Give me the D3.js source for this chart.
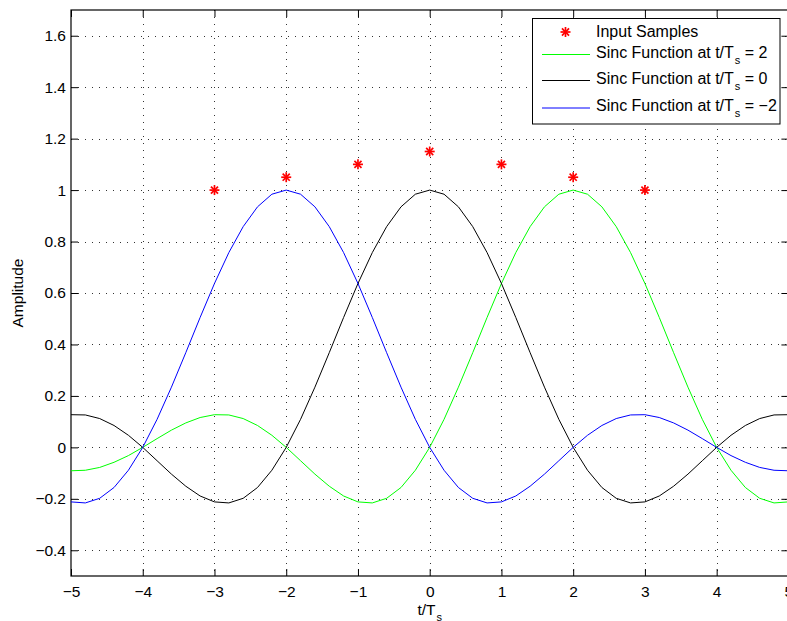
<!DOCTYPE html>
<html lang="en">
<head>
  <meta charset="utf-8">
  <title>Sinc interpolation</title>
  <script src="https://cdn.jsdelivr.net/npm/d3@7"></script>
  <style>
    body { margin: 0; background: #fff; }
    text { font-family: "Liberation Sans", Arial, Helvetica, sans-serif; }
  </style>
</head>
<body>
<script>
  // sample instants (t/Ts) and sample heights
  var sampleT = [-3, -2, -1, 0, 1, 2, 3];
  var sampleY = [1, 1.05, 1.1, 1.15, 1.1, 1.05, 1];

  // curves are sampled every 0.2 from -5 to 5
  var curveT = d3.range(51).map(function (i) { return -5 + i * 0.2; });

  var sincAt2 = [-.091, -.089, -.078, -.058, -.032, 0, .034, .067, .095, .116,
    .127, .126, .112, .085, .047, 0, -.052, -.104, -.151, -.189,
    -.212, -.216, -.198, -.156, -.089, 0, .109, .234, .368, .505,
    .637, .757, .858, .935, .984, 1, .984, .935, .858, .757,
    .637, .505, .368, .234, .109, 0, -.089, -.156, -.198, -.216, -.212];

  var sincAt0 = [.127, .126, .112, .085, .047, 0, -.052, -.104, -.151, -.189,
    -.212, -.216, -.198, -.156, -.089, 0, .109, .234, .368, .505,
    .637, .757, .858, .935, .984, 1, .984, .935, .858, .757,
    .637, .505, .368, .234, .109, 0, -.089, -.156, -.198, -.216,
    -.212, -.189, -.151, -.104, -.052, 0, .047, .085, .112, .126, .127];

  var sincAtM2 = [-.212, -.216, -.198, -.156, -.089, 0, .109, .234, .368, .505,
    .637, .757, .858, .935, .984, 1, .984, .935, .858, .757,
    .637, .505, .368, .234, .109, 0, -.089, -.156, -.198, -.216,
    -.212, -.189, -.151, -.104, -.052, 0, .047, .085, .112, .126,
    .127, .116, .095, .067, .034, 0, -.032, -.058, -.078, -.089, -.091];

  var xTicks = [-5, -4, -3, -2, -1, 0, 1, 2, 3, 4, 5];
  var yTicks = [-0.4, -0.2, 0, 0.2, 0.4, 0.6, 0.8, 1, 1.2, 1.4, 1.6];

  var curves = [
    { name: "2", values: sincAt2, color: "#00ff00" },
    { name: "0", values: sincAt0, color: "#000000" },
    { name: "\u22122", values: sincAtM2, color: "#0000ff" }
  ];

  var W = 787, H = 621;
  var pL = 71, pR = 788.4, pT = 10, pB = 576;
  var fs = 15.5;

  var svg = d3.select("body").append("svg")
    .attr("width", W).attr("height", H);

  var x = d3.scaleLinear().domain([-5, 5]).range([pL, pR]);
  var y = d3.scaleLinear().domain([-0.5, 1.7]).range([pB, pT]);

  function fmt(d) {
    var s = String(Math.round(d * 10) / 10);
    return s.replace("-", "\u2212");
  }

  // grid
  var grid = svg.append("g").attr("stroke", "#333").attr("stroke-width", 1)
    .attr("stroke-dasharray", "1,6");
  grid.selectAll(".gx").data(xTicks.slice(1, -1)).enter().append("line")
    .attr("x1", function (d) { return Math.round(x(d)) + 0.5; })
    .attr("x2", function (d) { return Math.round(x(d)) + 0.5; })
    .attr("y1", pT).attr("y2", pB);
  grid.selectAll(".gy").data(yTicks).enter().append("line")
    .attr("y1", function (d) { return Math.round(y(d)) + 0.5; })
    .attr("y2", function (d) { return Math.round(y(d)) + 0.5; })
    .attr("x1", pL).attr("x2", pR);

  // axes
  svg.append("g").attr("transform", "translate(0," + pB + ")")
    .call(d3.axisBottom(x).tickValues(xTicks).tickFormat(fmt)
      .tickSizeInner(-7).tickSizeOuter(0).tickPadding(10));
  svg.append("g").attr("transform", "translate(0," + pT + ")")
    .call(d3.axisTop(x).tickValues(xTicks).tickFormat("")
      .tickSizeInner(-7).tickSizeOuter(0));
  svg.append("g").attr("transform", "translate(" + pL + ",0)")
    .call(d3.axisLeft(y).tickValues(yTicks).tickFormat(fmt)
      .tickSizeInner(-7).tickSizeOuter(0).tickPadding(5));
  svg.append("g").attr("transform", "translate(" + pR + ",0)")
    .call(d3.axisRight(y).tickValues(yTicks).tickFormat("")
      .tickSizeInner(-7).tickSizeOuter(0));

  svg.selectAll(".domain").remove();
  svg.selectAll(".tick line").attr("stroke", "#000");
  svg.selectAll(".tick text").attr("font-size", fs).attr("fill", "#000")
    .attr("font-family", "Liberation Sans, Arial, sans-serif");

  svg.append("rect")
    .attr("x", pL).attr("y", pT)
    .attr("width", pR - pL).attr("height", pB - pT)
    .attr("fill", "none").attr("stroke", "#000").attr("stroke-width", 1.2);

  // curves
  var line = d3.line()
    .x(function (d, i) { return x(curveT[i]); })
    .y(function (d) { return y(d); });

  svg.selectAll(".curve").data(curves).enter().append("path")
    .attr("class", "curve")
    .attr("d", function (c) { return line(c.values); })
    .attr("fill", "none")
    .attr("stroke", function (c) { return c.color; })
    .attr("stroke-width", 1);

  // asterisk marker
  function star(g, cx, cy, r) {
    [0, 45, 90, 135].forEach(function (a) {
      var rad = a * Math.PI / 180;
      g.append("line")
        .attr("x1", cx - r * Math.cos(rad)).attr("y1", cy - r * Math.sin(rad))
        .attr("x2", cx + r * Math.cos(rad)).attr("y2", cy + r * Math.sin(rad))
        .attr("stroke", "#ff0000").attr("stroke-width", 1.7);
    });
  }

  var marks = svg.append("g");
  sampleT.forEach(function (t, i) { star(marks, x(t), y(sampleY[i]), 5); });

  // axis labels
  var xl = svg.append("text")
    .attr("x", x(0)).attr("y", 615)
    .attr("text-anchor", "middle").attr("font-size", fs);
  xl.append("tspan").text("t/T");
  xl.append("tspan").attr("font-size", 11).attr("dx", 1).attr("dy", 6).text("s");

  svg.append("text")
    .attr("transform", "translate(23," + ((pT + pB) / 2) + ") rotate(-90)")
    .attr("text-anchor", "middle").attr("font-size", fs)
    .text("Amplitude");

  // legend
  var lg = svg.append("g");
  lg.append("rect")
    .attr("x", 532.5).attr("y", 18.5).attr("width", 247.5).attr("height", 105.5)
    .attr("fill", "#fff").attr("stroke", "#000").attr("stroke-width", 1);

  star(lg, 565.5, 32, 5);
  lg.append("text").attr("x", 596).attr("y", 37).attr("font-size", 16)
    .text("Input Samples");

  var rowLine = [54.5, 80.5, 108];
  var rowText = [58, 84, 110.5];
  curves.forEach(function (c, i) {
    lg.append("line")
      .attr("x1", 542).attr("x2", 590)
      .attr("y1", rowLine[i]).attr("y2", rowLine[i])
      .attr("stroke", c.color).attr("stroke-width", 1);
    var t = lg.append("text").attr("x", 596).attr("y", rowText[i])
      .attr("font-size", 16);
    t.append("tspan").text("Sinc Function at t/T");
    t.append("tspan").attr("font-size", 11).attr("dx", 1).attr("dy", 6).text("s");
    t.append("tspan").attr("dy", -6).text(" = " + c.name);
  });
</script>
</body>
</html>
